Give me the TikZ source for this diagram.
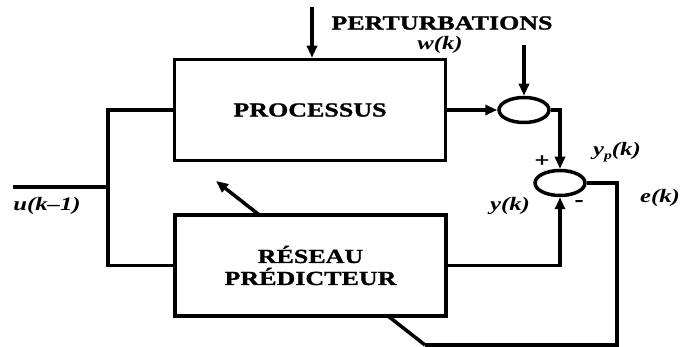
\documentclass[tikz,border=0pt]{standalone}
\usepackage{fontspec}
\setmainfont{Liberation Serif}[FakeStretch=1.3, BoldFeatures={FakeBold=1.2}]
\usepackage{tikz}
\usetikzlibrary{arrows.meta,shapes.geometric,positioning,calc}

\tikzset{
    blk/.style={draw, line width=3.5pt, fill=white, minimum width=271pt, minimum height=101pt, align=center},
    sumnode/.style={ellipse, draw, line width=3.5pt, fill=white, minimum width=50pt, minimum height=25pt, inner sep=0pt},
    sig/.style={line width=3.5pt},
    arr/.style={line width=3.5pt, -{Triangle[length=12pt,width=10pt]}},
    lbl/.style={font=\fontsize{19}{20}\selectfont\bfseries\itshape, inner sep=0pt},
    capt/.style={font=\fontsize{20}{21}\selectfont\bfseries, inner sep=0pt}
}

\begin{document}
\begin{tikzpicture}[x=1pt, y=-1pt]
    \useasboundingbox (0,0) rectangle (683,347);

    % adaptation arrow, crosses the predictor block
    \coordinate (fbend) at (425,345);
    \coordinate (adtip) at (216,181);
    \draw[arr] (fbend) -- (adtip);

    % blocks
    \node[blk, capt] (proc) at (310,110) {PROCESSUS};
    \node[blk, capt] (pred) at (310.5,265.5) {RÉSEAU\\[1pt]PRÉDICTEUR};

    % summing junctions
    \node[sumnode] (sum1) at (524,110) {};
    \node[sumnode] (sum2) at (560,183) {};

    % input u(k-1)
    \coordinate (uin) at (13,187);
    \coordinate (junc) at (108,187);
    \draw[sig] (uin) -- (junc);
    \draw[sig] (proc.west) -| (junc) |- (pred.west);
    \node[lbl] (ulbl) at (47,206) {u(k--1)};

    % disturbance
    \coordinate (ptop) at (312,7);
    \draw[arr, line width=4.5pt] (ptop) -- (ptop |- proc.north);
    \node[capt] (pert) at (442,23) {PERTURBATIONS};
    \node[lbl] (wlbl) at (440,45) {w(k)};
    \coordinate (wtop) at (524,45);
    \draw[arr, line width=4.5pt] (wtop) -- (sum1.north);

    % signal paths
    \draw[arr] (proc.east |- sum1) -- (sum1.west);
    \draw[arr] (sum1.east) -| (sum2.north);
    \draw[arr] (pred.east) -| (sum2.south);
    \coordinate (ecor) at (617,345);
    \draw[sig] (sum2.east) -| (ecor) -- (fbend);

    % signs and labels
    \node[capt] (plus) at (542,161) {+};
    \node[capt] (minus) at (579,203) {-};
    \node[lbl] (yplbl) at (617,152) {y\raisebox{-4pt}{\fontsize{12}{12}\selectfont p}(k)};
    \node[lbl] (ylbl) at (510,206) {y(k)};
    \node[lbl] (elbl) at (660,198) {e(k)};
\end{tikzpicture}
\end{document}
